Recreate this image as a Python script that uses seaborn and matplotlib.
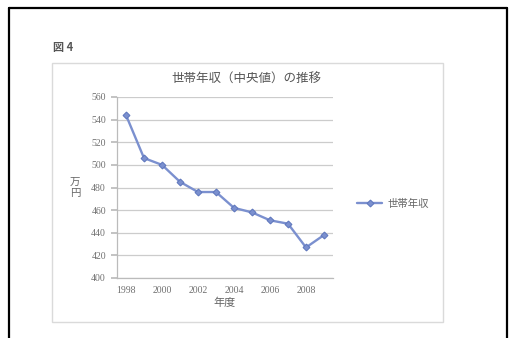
import pandas as pd
import matplotlib
matplotlib.use("Agg")
import matplotlib.pyplot as plt
import seaborn as sns
from matplotlib.patches import Rectangle

# data
years = [1998, 1999, 2000, 2001, 2002, 2003, 2004, 2005, 2006, 2007, 2008, 2009]
income = [544, 506, 500, 485, 476, 476, 462, 458, 451, 448, 427, 438]
year_ticks = [1998, 2000, 2002, 2004, 2006, 2008]
y_ticks = [400, 420, 440, 460, 480, 500, 520, 540, 560]

W, H = 513, 338

sns.set_theme(style="white")
plt.rcParams['font.family'] = ['Noto Sans CJK JP', 'DejaVu Sans']

df = pd.DataFrame({'年度': years, '世帯年収': income})

fig = plt.figure(figsize=(W / 100, H / 100), dpi=100)
fig.patch.set_facecolor('white')


def px(x, y):
    # pixel coords (top-left origin) -> figure fraction
    return x / W, 1 - y / H


# page border (left, top, right)
fig.lines.append(plt.Line2D([9 / W, 9 / W], [0, 1 - 8 / H], transform=fig.transFigure, color='black', lw=1.6))
fig.lines.append(plt.Line2D([9 / W, 507 / W], [1 - 8 / H, 1 - 8 / H], transform=fig.transFigure, color='black', lw=1.6))
fig.lines.append(plt.Line2D([507 / W, 507 / W], [0, 1 - 8 / H], transform=fig.transFigure, color='black', lw=1.6))

# chart frame, kept behind the axes
x0, y0 = px(52, 322)
fig.patches.append(Rectangle((x0, y0), (443 - 52) / W, (322 - 63) / H, transform=fig.transFigure,
                             facecolor='none', edgecolor='#dadada', lw=1.0, zorder=-1))

fig.text(*px(53, 48), '図 4', fontsize=8, color='#555555', va='center', ha='left', fontweight='bold')

ax = fig.add_axes([117 / W, 1 - 278 / H, (333 - 117) / W, (278 - 97) / H])
ax.set_facecolor('none')
sns.lineplot(data=df, x='年度', y='世帯年収', ax=ax, color='#7b90cf', lw=1.7,
             marker='D', markersize=3.5, markeredgecolor='#5f77bd', label='世帯年収')

ax.set_xlim(1997.5, 2009.5)
ax.set_ylim(400, 560)
ax.set_yticks(y_ticks)
ax.set_xticks(year_ticks)
ax.set_xticklabels([str(y) for y in year_ticks], family=['Liberation Serif'], fontsize=7, color='#707070')
ax.set_yticklabels([str(y) for y in y_ticks], family=['Liberation Serif'], fontsize=7, color='#707070')
ax.yaxis.grid(True, color='#cccccc', lw=0.9)
for s in ['top', 'right']:
    ax.spines[s].set_visible(False)
for s in ['left', 'bottom']:
    ax.spines[s].set_color('#bbbbbb')
    ax.spines[s].set_linewidth(0.9)
ax.tick_params(axis='y', length=4, color='#bbbbbb', pad=4, left=True)
ax.tick_params(axis='x', length=0, pad=6)
ax.set_xlabel('年度', fontsize=8, color='#666666', labelpad=2)
ax.set_ylabel('')

fig.text(*px(75, 188), '万\n円', fontsize=7.5, color='#666666', ha='center', va='center', linespacing=0.9)
fig.text(*px(246, 79), '世帯年収（中央値）の推移', fontsize=9, color='#555555', ha='center', va='center')

ax.legend(loc='center left', bbox_to_anchor=(348 / W, 1 - 204 / H), bbox_transform=fig.transFigure,
          frameon=False, fontsize=7.5, handlelength=2.4, handletextpad=0.5, labelcolor='#666666')

fig.savefig('out.png', dpi=100)
